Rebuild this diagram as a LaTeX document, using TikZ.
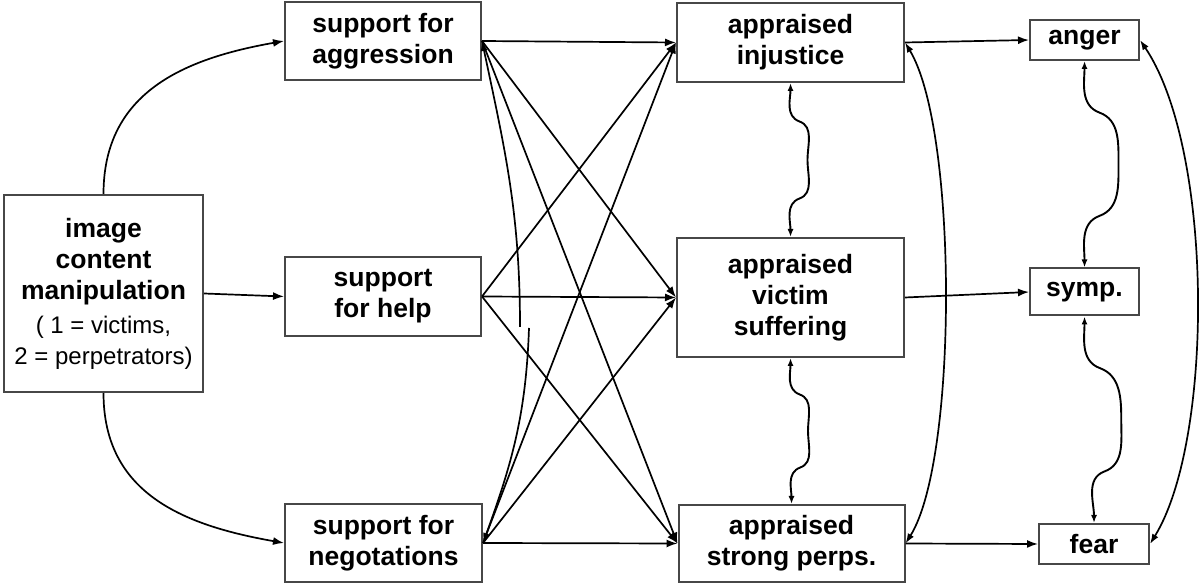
\documentclass[tikz,border=0pt]{standalone}
\usepackage{fontspec}
\setmainfont{Liberation Sans}
\usetikzlibrary{arrows.meta,calc}
\newcommand\regtxt{\mdseries\fontsize{24}{30}\selectfont}
\newcommand\wavyarrow[4]{%
  \draw[wav] (#1) to[out=-90,in=160] ($(#1)!0.25!(#2)+(#3,0)$)
    to[out=-20,in=90] ($(#1)!0.5!(#2)+(#4,0)$)
    to[out=-90,in=20] ($(#1)!0.75!(#2)+(#3,0)$)
    to[out=200,in=90] (#2);}
\begin{document}
\begin{tikzpicture}[x=1pt,y=1pt,
  box/.style={draw=black!72, line width=2pt, fill=white, align=center, inner sep=0pt,
    font=\fontsize{26.5}{31}\selectfont\bfseries},
  con/.style={line width=1.7pt, -{Latex[length=11pt,width=8pt]}},
  dbl/.style={line width=1.7pt, {Latex[length=10pt,width=7pt]}-{Latex[length=10pt,width=7pt]}},
  back/.style={line width=1.7pt, {Latex[length=10pt,width=7pt]}-},
  wav/.style={line width=1.9pt, {Latex[length=8pt,width=6pt]}-{Latex[length=8pt,width=6pt]}}
]
\useasboundingbox (0,0) rectangle (1199,586);

% nodes
\node[box, minimum width=199pt, minimum height=197pt] (img) at (103.5,292.5)
  {image\\content\\manipulation\\[3pt]\regtxt ( 1 = victims,\\\regtxt 2 = perpetrators)};
\node[box, minimum width=196pt, minimum height=78pt] (agg) at (383,545) {support for\\aggression};
\node[box, minimum width=196pt, minimum height=79pt] (help) at (383,289.5) {support\\for help};
\node[box, minimum width=197pt, minimum height=78pt] (neg) at (383.5,43) {support for\\negotations};
\node[box, minimum width=227pt, minimum height=79pt] (inj) at (790.5,543.5) {appraised\\injustice};
\node[box, minimum width=227pt, minimum height=119pt] (vic) at (790.5,288.5) {appraised\\victim\\suffering};
\node[box, minimum width=226pt, minimum height=77pt] (per) at (791.5,42.5) {appraised\\strong perps.};
\node[box, minimum width=109pt, minimum height=40pt] (anger) at (1084.5,546) {anger};
\node[box, minimum width=109pt, minimum height=47pt] (symp) at (1084.5,294) {symp.};
\node[box, minimum width=110pt, minimum height=40pt] (fear) at (1094,42) {fear};

\coordinate (c1) at (520,259);
\coordinate (c2) at (529,258);

% left connectors
\draw[con] (img.north) to[out=90,in=190,looseness=1.1] (agg.west);
\draw[con] (img.south) to[out=-90,in=170,looseness=1.1] (neg.west);
\draw[con] (img.east) -- (help.west);

% cross connectors
\foreach \s in {agg,help,neg}{
  \foreach \t in {inj,vic,per}{
    \draw[con] (\s.east) -- (\t.west);
  }
}
\draw[back] (agg.east) to[out=-78,in=90] (c1);
\draw[back] (neg.east) to[out=70,in=-92] (c2);

% right connectors
\draw[con] (inj.east) -- (anger.west);
\draw[con] (vic.east) -- (symp.west);
\draw[con] (per.east) -- (fear.west);
\draw[dbl] (inj.east) .. controls (958,456) and (958,126) .. (per.east);
\draw[dbl] (anger.east) .. controls (1214,436) and (1214,146) .. (fear.east);

% wavy correlations
\wavyarrow{inj.south}{vic.north}{9}{17}
\wavyarrow{vic.south}{per.north}{9}{17}
\wavyarrow{anger.south}{symp.north}{15}{34}
\wavyarrow{symp.south}{fear.north}{13}{32}
\end{tikzpicture}
\end{document}
